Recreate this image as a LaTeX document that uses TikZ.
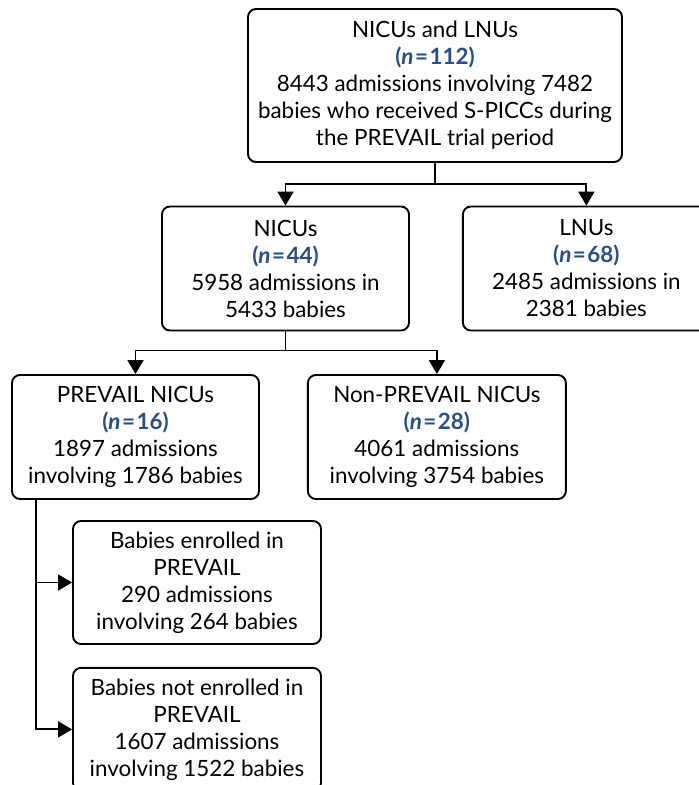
\documentclass[tikz,border=0pt]{standalone}
\usepackage{fontspec}
\setmainfont{Lato}
\usepackage{xcolor}
\usepackage{tikz}
\usetikzlibrary{arrows.meta, positioning}
\definecolor{nblue}{RGB}{40,78,138}
\newcommand{\nval}[1]{{\color{nblue}\bfseries(\textit{n}\kern1.5pt=\kern1.5pt#1)}}

\begin{document}
\begin{tikzpicture}[x=1pt, y=-1pt,
		box/.style={draw, line width=1.9pt, rounded corners=8pt, align=center, inner sep=0pt, minimum width=247pt, minimum height=124pt, font=\fontsize{22.4}{27}\selectfont},
		link/.style={line width=1.9pt},
		arr/.style={link, -{Triangle[length=14pt,width=16pt]}}]

		\useasboundingbox (0,0) rectangle (699,785);

		\node[box, minimum width=374pt, minimum height=153pt] (all) at (435,85.5) {NICUs and LNUs\\ \nval{112}\\ 8443 admissions involving 7482\\ babies who received S-PICCs during\\ the PREVAIL trial period};
		\node[box] (nicu) at (285.5,268.5) {NICUs\\ \nval{44}\\ 5958 admissions in\\ 5433 babies};
		\node[box, right=52pt of nicu] (lnu) {LNUs\\ \nval{68}\\ 2485 admissions in\\ 2381 babies};
		\node[box] (prev) at (135.5,437) {PREVAIL NICUs\\ \nval{16}\\ 1897 admissions\\ involving 1786 babies};
		\node[box, minimum width=258pt, right=47pt of prev] (nonprev) {Non-PREVAIL NICUs\\ \nval{28}\\ 4061 admissions\\ involving 3754 babies};
		\node[box, minimum width=248pt, minimum height=123pt] (enr) at (197,582.5) {Babies enrolled in\\ PREVAIL\\ 290 admissions\\ involving 264 babies};
		\node[box, minimum width=248pt, minimum height=123pt, below=22pt of enr] (notenr) {Babies not enrolled in\\ PREVAIL\\ 1607 admissions\\ involving 1522 babies};

		\path (all.south) ++(0,21) coordinate (s1);
		\path (nicu.south) ++(0,19) coordinate (s2);
		\path (prev.south west) ++(25,0) coordinate (s3);

		\draw[link] (all.south) -- (s1);
		\draw[arr] (s1) -| (nicu.north);
		\draw[arr] (s1) -| (lnu.north);
		\draw[link] (nicu.south) -- (s2);
		\draw[arr] (s2) -| (prev.north);
		\draw[arr] (s2) -| (nonprev.north);
		\draw[arr] (s3) |- (enr.west);
		\draw[arr] (s3) |- (notenr.west);

\end{tikzpicture}
\end{document}
